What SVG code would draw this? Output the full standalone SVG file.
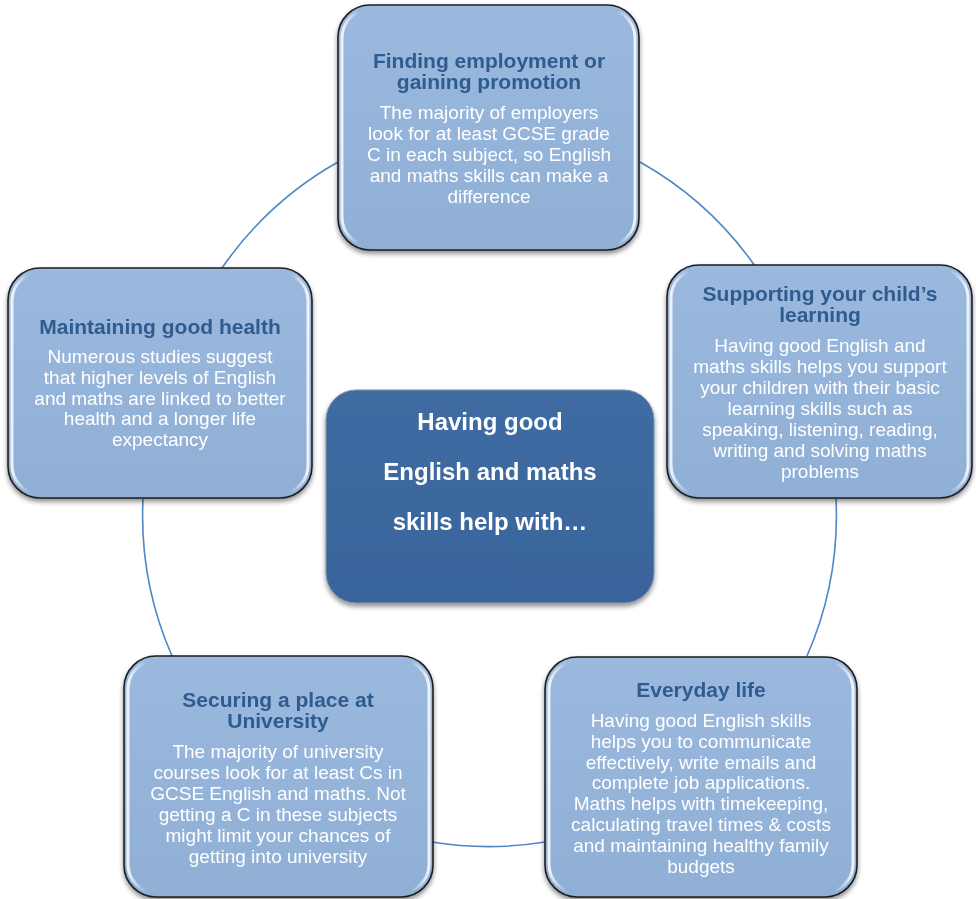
<svg xmlns="http://www.w3.org/2000/svg" width="976" height="899" viewBox="0 0 976 899">
  <defs>
    <linearGradient id="boxFill" x1="0" y1="0" x2="0" y2="1">
      <stop offset="0" stop-color="#9bb9de"/>
      <stop offset="1" stop-color="#90afd5"/>
    </linearGradient>
    <linearGradient id="hlStroke" x1="0" y1="0" x2="1" y2="0">
      <stop offset="0" stop-color="#ffffff" stop-opacity="0.85"/>
      <stop offset="0.06" stop-color="#ffffff" stop-opacity="0"/>
      <stop offset="0.94" stop-color="#ffffff" stop-opacity="0"/>
      <stop offset="1" stop-color="#ffffff" stop-opacity="0.85"/>
    </linearGradient>
    <linearGradient id="centerFill" x1="0" y1="0" x2="0" y2="1">
      <stop offset="0" stop-color="#3f6ca2"/>
      <stop offset="1" stop-color="#39649b"/>
    </linearGradient>
    <filter id="shadow" x="-10%" y="-10%" width="120%" height="125%">
      <feGaussianBlur in="SourceAlpha" stdDeviation="2.5"/>
      <feOffset dx="0" dy="3" result="b"/>
      <feComponentTransfer><feFuncA type="linear" slope="0.45"/></feComponentTransfer>
      <feMerge><feMergeNode/><feMergeNode in="SourceGraphic"/></feMerge>
    </filter>
  </defs>
  <style>
    .box { fill: url(#boxFill); stroke: #1e1e1e; stroke-width: 1.6; }
    .hl { fill: none; stroke: url(#hlStroke); stroke-width: 3; }
    .center { fill: url(#centerFill); stroke: #7f93ad; stroke-width: 1; }
    .title { font-family: "Liberation Sans", Arial, sans-serif; font-weight: bold; font-size: 21px; fill: #2f5b8f; text-anchor: middle; }
    .body { font-family: "Liberation Sans", Arial, sans-serif; font-size: 19px; fill: #ffffff; text-anchor: middle; }
    .ctext { font-family: "Liberation Sans", Arial, sans-serif; font-weight: bold; font-size: 24px; fill: #ffffff; text-anchor: middle; }
    .conn { fill: none; stroke: #4f86c6; stroke-width: 1.6; }
  </style>
  <rect width="976" height="899" fill="#ffffff"/>

  <g id="connectors">
    <path class="conn" d="M640,162 A350,350 0 0 1 755,266"/>
    <path class="conn" d="M836,499 A350,350 0 0 1 807,656"/>
    <path class="conn" d="M545,842 A350,350 0 0 1 432,842"/>
    <path class="conn" d="M172,656 A350,350 0 0 1 143,499"/>
    <path class="conn" d="M222,268 A350,350 0 0 1 338,162"/>
  </g>

  <g id="node-employment" filter="url(#shadow)">
    <rect class="box" x="338" y="5" width="301" height="245" rx="32"/>
    <rect class="hl" x="342" y="9" width="293" height="237" rx="29"/>
    <text class="title" x="489" y="68">Finding employment or</text>
    <text class="title" x="489" y="89">gaining promotion</text>
    <text class="body" x="489" y="119">The majority of employers</text>
    <text class="body" x="489" y="140">look for at least GCSE grade</text>
    <text class="body" x="489" y="161">C in each subject, so English</text>
    <text class="body" x="489" y="182">and maths skills can make a</text>
    <text class="body" x="489" y="203">difference</text>
  </g>

  <g id="node-health" filter="url(#shadow)">
    <rect class="box" x="8" y="268" width="304" height="230" rx="32"/>
    <rect class="hl" x="12" y="272" width="296" height="222" rx="29"/>
    <text class="title" x="160" y="334">Maintaining good health</text>
    <text class="body" x="160" y="363">Numerous studies suggest</text>
    <text class="body" x="160" y="384">that higher levels of English</text>
    <text class="body" x="160" y="405">and maths are linked to better</text>
    <text class="body" x="160" y="425">health and a longer life</text>
    <text class="body" x="160" y="446">expectancy</text>
  </g>

  <g id="node-child" filter="url(#shadow)">
    <rect class="box" x="667" y="265" width="305" height="233" rx="32"/>
    <rect class="hl" x="671" y="269" width="297" height="225" rx="29"/>
    <text class="title" x="820" y="301">Supporting your child’s</text>
    <text class="title" x="820" y="322">learning</text>
    <text class="body" x="820" y="352">Having good English and</text>
    <text class="body" x="820" y="373">maths skills helps you support</text>
    <text class="body" x="820" y="394">your children with their basic</text>
    <text class="body" x="820" y="415">learning skills such as</text>
    <text class="body" x="820" y="436">speaking, listening, reading,</text>
    <text class="body" x="820" y="457">writing and solving maths</text>
    <text class="body" x="820" y="478">problems</text>
  </g>

  <g id="node-center" filter="url(#shadow)">
    <rect class="center" x="326" y="390" width="328" height="213" rx="30"/>
    <text class="ctext" x="490" y="430">Having good</text>
    <text class="ctext" x="490" y="480">English and maths</text>
    <text class="ctext" x="490" y="530">skills help with…</text>
  </g>

  <g id="node-university" filter="url(#shadow)">
    <rect class="box" x="124" y="656" width="309" height="241" rx="32"/>
    <rect class="hl" x="128" y="660" width="301" height="233" rx="29"/>
    <text class="title" x="278" y="707">Securing a place at</text>
    <text class="title" x="278" y="728">University</text>
    <text class="body" x="278" y="758">The majority of university</text>
    <text class="body" x="278" y="779">courses look for at least Cs in</text>
    <text class="body" x="278" y="800">GCSE English and maths. Not</text>
    <text class="body" x="278" y="821">getting a C in these subjects</text>
    <text class="body" x="278" y="842">might limit your chances of</text>
    <text class="body" x="278" y="863">getting into university</text>
  </g>

  <g id="node-everyday" filter="url(#shadow)">
    <rect class="box" x="545" y="657" width="312" height="240" rx="32"/>
    <rect class="hl" x="549" y="661" width="304" height="232" rx="29"/>
    <text class="title" x="701" y="697">Everyday life</text>
    <text class="body" x="701" y="727">Having good English skills</text>
    <text class="body" x="701" y="748">helps you to communicate</text>
    <text class="body" x="701" y="769">effectively, write emails and</text>
    <text class="body" x="701" y="789">complete job applications.</text>
    <text class="body" x="701" y="810">Maths helps with timekeeping,</text>
    <text class="body" x="701" y="831">calculating travel times &amp; costs</text>
    <text class="body" x="701" y="852">and maintaining healthy family</text>
    <text class="body" x="701" y="873">budgets</text>
  </g>
</svg>
